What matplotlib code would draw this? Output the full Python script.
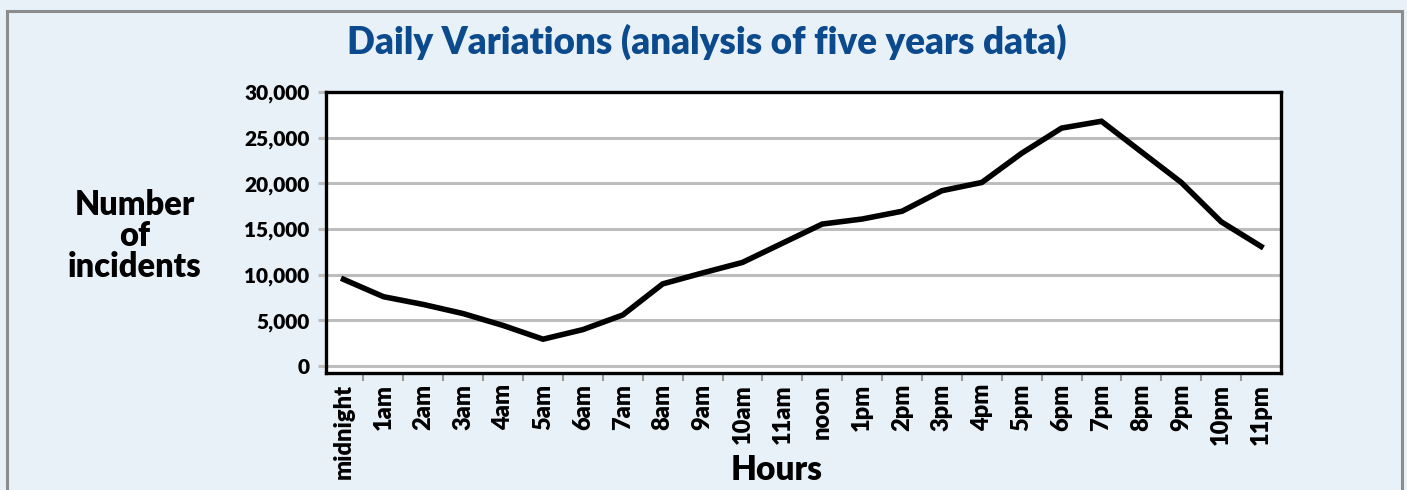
import matplotlib
matplotlib.use("Agg")
import matplotlib.pyplot as plt
from matplotlib.patches import Rectangle

hours = ["midnight", "1am", "2am", "3am", "4am", "5am", "6am", "7am", "8am", "9am",
         "10am", "11am", "noon", "1pm", "2pm", "3pm", "4pm", "5pm", "6pm", "7pm",
         "8pm", "9pm", "10pm", "11pm"]
incidents = [9500, 7600, 6750, 5750, 4450, 2950, 4000, 5600, 9000, 10200,
             11350, 13450, 15550, 16100, 16950, 19200, 20100, 23300, 26050, 26800,
             23450, 20100, 15800, 13100]
yticks = [0, 5000, 10000, 15000, 20000, 25000, 30000]
ytick_labels = ["0", "5,000", "10,000", "15,000", "20,000", "25,000", "30,000"]

FONT = "Lato"
W = "heavy"
BG = "#e9f1f8"

fig = plt.figure(figsize=(14.07, 4.9), dpi=100)
fig.patch.set_facecolor(BG)
fig.patches.append(Rectangle((7/1407, -0.1), (1402-7)/1407, 1.1 - 11/490,
                             transform=fig.transFigure, fill=False,
                             edgecolor="#8c8c8c", linewidth=2.2))

ax = fig.add_axes([326/1407, 1 - 373/490, 955/1407, (373-92)/490])
ax.set_facecolor("white")
x = list(range(len(hours)))
ax.plot(x, incidents, color="black", linewidth=4.0, solid_joinstyle="miter", zorder=3)

ax.set_xlim(-0.44, 23.5)
ax.set_ylim(-750, 30000)

ax.set_yticks(yticks)
ax.set_yticklabels(ytick_labels, fontfamily=FONT, fontweight=W, fontsize=15)
ax.yaxis.grid(True, color="#bdbdbd", linewidth=2.2)
ax.set_axisbelow(True)
ax.tick_params(axis="y", length=6, width=2.2, color="#bdbdbd", pad=6)

ax.set_xticks([i + 0.5 for i in range(23)], minor=True)
ax.set_xticks(x)
ax.set_xticklabels(hours, rotation=90, fontfamily=FONT, fontweight=W,
                   fontsize=17, va="top", ha="center")
ax.tick_params(axis="x", which="major", length=0, pad=8)
ax.tick_params(axis="x", which="minor", length=6, width=1.5, color="#999999")

for s in ax.spines.values():
    s.set_linewidth(2.4)
    s.set_color("black")

fig.text(0.502, 0.914, "Daily Variations (analysis of five years data)",
         ha="center", va="center", fontfamily=FONT, fontweight=W,
         fontsize=26.5, color="#0c4a8e")
fig.text(135/1407, 1 - 236/490, "Number\nof\nincidents", ha="center", va="center",
         fontfamily=FONT, fontweight=W, fontsize=23.5, linespacing=0.95, color="black")
fig.text(777/1407, 1 - 470/490, "Hours", ha="center", va="center",
         fontfamily=FONT, fontweight=W, fontsize=24, color="black")

fig.savefig("out.png", dpi=100, facecolor=BG)
